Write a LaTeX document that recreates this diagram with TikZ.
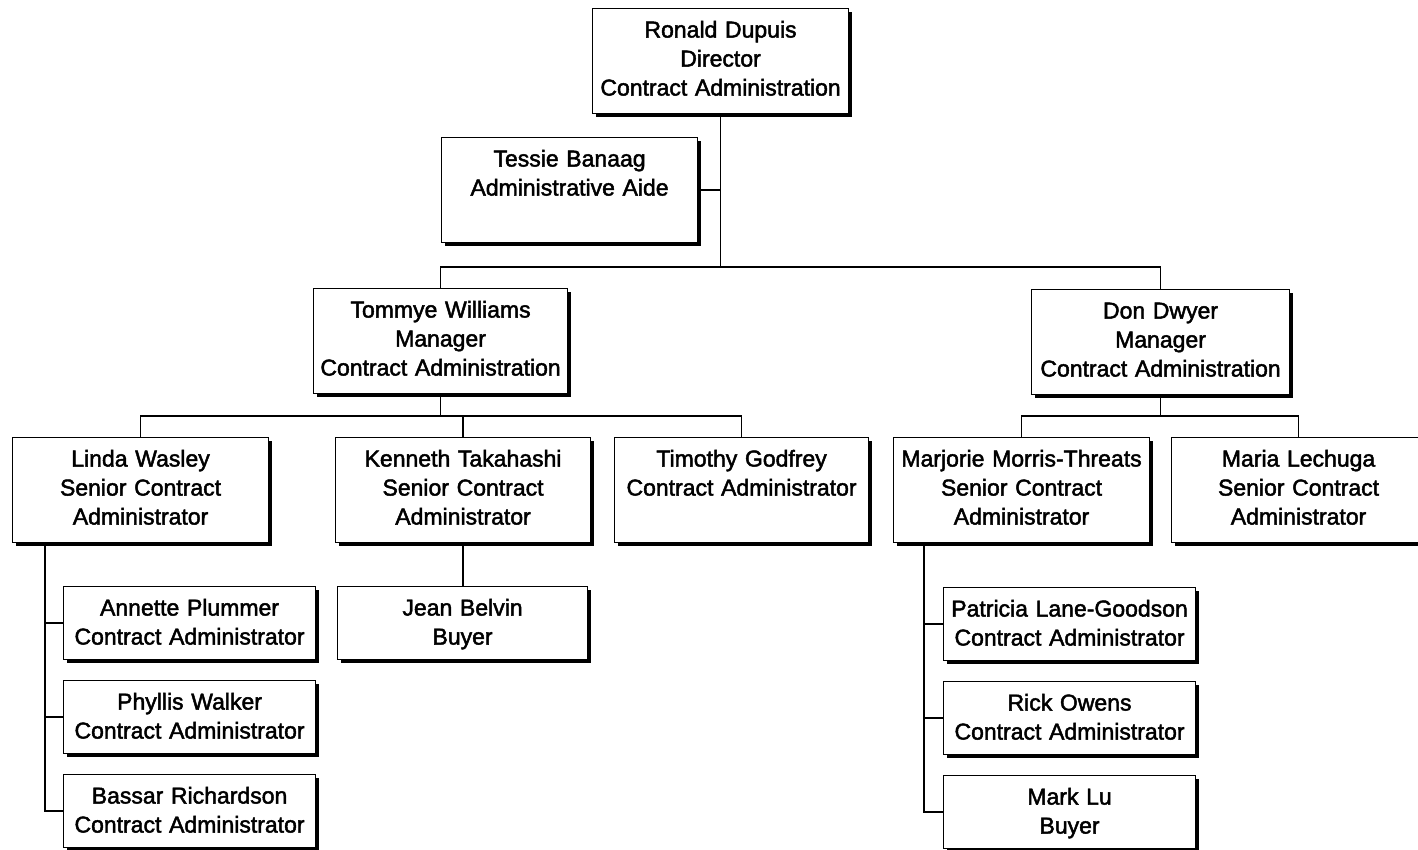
\documentclass[tikz,border=0pt]{standalone}
\usepackage{fontspec}
\setmainfont{Liberation Sans}[BoldFont=Liberation Sans, BoldFeatures={FakeBold=2}]
\usetikzlibrary{shadows}

\tikzset{
  post/.style={draw, line width=1.1pt, fill=white, anchor=north west,
    inner sep=0pt, align=center, text height=29pt,
    font=\fontsize{23}{29}\selectfont\bfseries,
    drop shadow={shadow xshift=3.5pt, shadow yshift=-3.5pt, opacity=1, fill=black}},
  big/.style={post, text width=#1, text depth=76pt},
  small/.style={post, text width=#1, text depth=44pt},
  link/.style={line width=1.8pt}
}

\begin{document}
\begin{tikzpicture}[x=1pt, y=-1pt]
    \useasboundingbox (0,0) rectangle (1418,849);

    % top
    \node[big=256pt] (dupuis) at (592,8) {Ronald Dupuis\\Director\\Contract Administration};
    \node[big=256pt] (banaag) at (441,137) {Tessie Banaag\\Administrative Aide};

    % managers
    \node[big=254pt] (williams) at (313,288) {Tommye Williams\\Manager\\Contract Administration};
    \node[big=258pt] (dwyer) at (1031,289) {Don Dwyer\\Manager\\Contract Administration};

    % seniors
    \node[big=256pt] (wasley) at (12,437) {Linda Wasley\\Senior Contract\\Administrator};
    \node[big=255pt] (takahashi) at (335,437) {Kenneth Takahashi\\Senior Contract\\Administrator};
    \node[big=254pt] (godfrey) at (614,437) {Timothy Godfrey\\Contract Administrator};
    \node[big=256pt] (morris) at (893,437) {Marjorie Morris-Threats\\Senior Contract\\Administrator};
    \node[big=254pt] (lechuga) at (1171,437) {Maria Lechuga\\Senior Contract\\Administrator};

    % staff
    \node[small=252pt] (plummer) at (63,586) {Annette Plummer\\Contract Administrator};
    \node[small=252pt] (walker) at (63,680) {Phyllis Walker\\Contract Administrator};
    \node[small=252pt] (richardson) at (63,774) {Bassar Richardson\\Contract Administrator};
    \node[small=250pt] (belvin) at (337,586) {Jean Belvin\\Buyer};
    \node[small=252pt] (goodson) at (943,587) {Patricia Lane-Goodson\\Contract Administrator};
    \node[small=252pt] (owens) at (943,681) {Rick Owens\\Contract Administrator};
    \node[small=252pt] (lu) at (943,775) {Mark Lu\\Buyer};

    % lines
    \coordinate (dirbus) at (dupuis.south |- 0,267);
    \coordinate (twbus) at (williams.south |- 0,416);
    \coordinate (ddbus) at (dwyer.south |- 0,416);
    \coordinate (wline) at ([xshift=33pt]wasley.south west);
    \coordinate (mline) at ([xshift=31pt]morris.south west);

    \draw[link] (dupuis.south) -- (dirbus);
    \draw[link] (banaag.east) -- (banaag.east -| dirbus);
    \draw[link] (williams.north) |- (dirbus) -| (dwyer.north);

    \draw[link] (williams.south) -- (twbus);
    \draw[link] (wasley.north) |- (twbus) -| (godfrey.north);
    \draw[link] (takahashi.north) -- (takahashi.north |- twbus);
    \draw[link] (takahashi.south) -- (takahashi.south |- belvin.north);

    \draw[link] (dwyer.south) -- (ddbus);
    \draw[link] (morris.north) |- (ddbus) -| (lechuga.north);

    \draw[link] (wline) |- (richardson.west);
    \foreach \n in {plummer,walker}
        \draw[link] (\n.west) -- (\n.west -| wline);
    \draw[link] (mline) |- (lu.west);
    \foreach \n in {goodson,owens}
        \draw[link] (\n.west) -- (\n.west -| mline);
\end{tikzpicture}
\end{document}
